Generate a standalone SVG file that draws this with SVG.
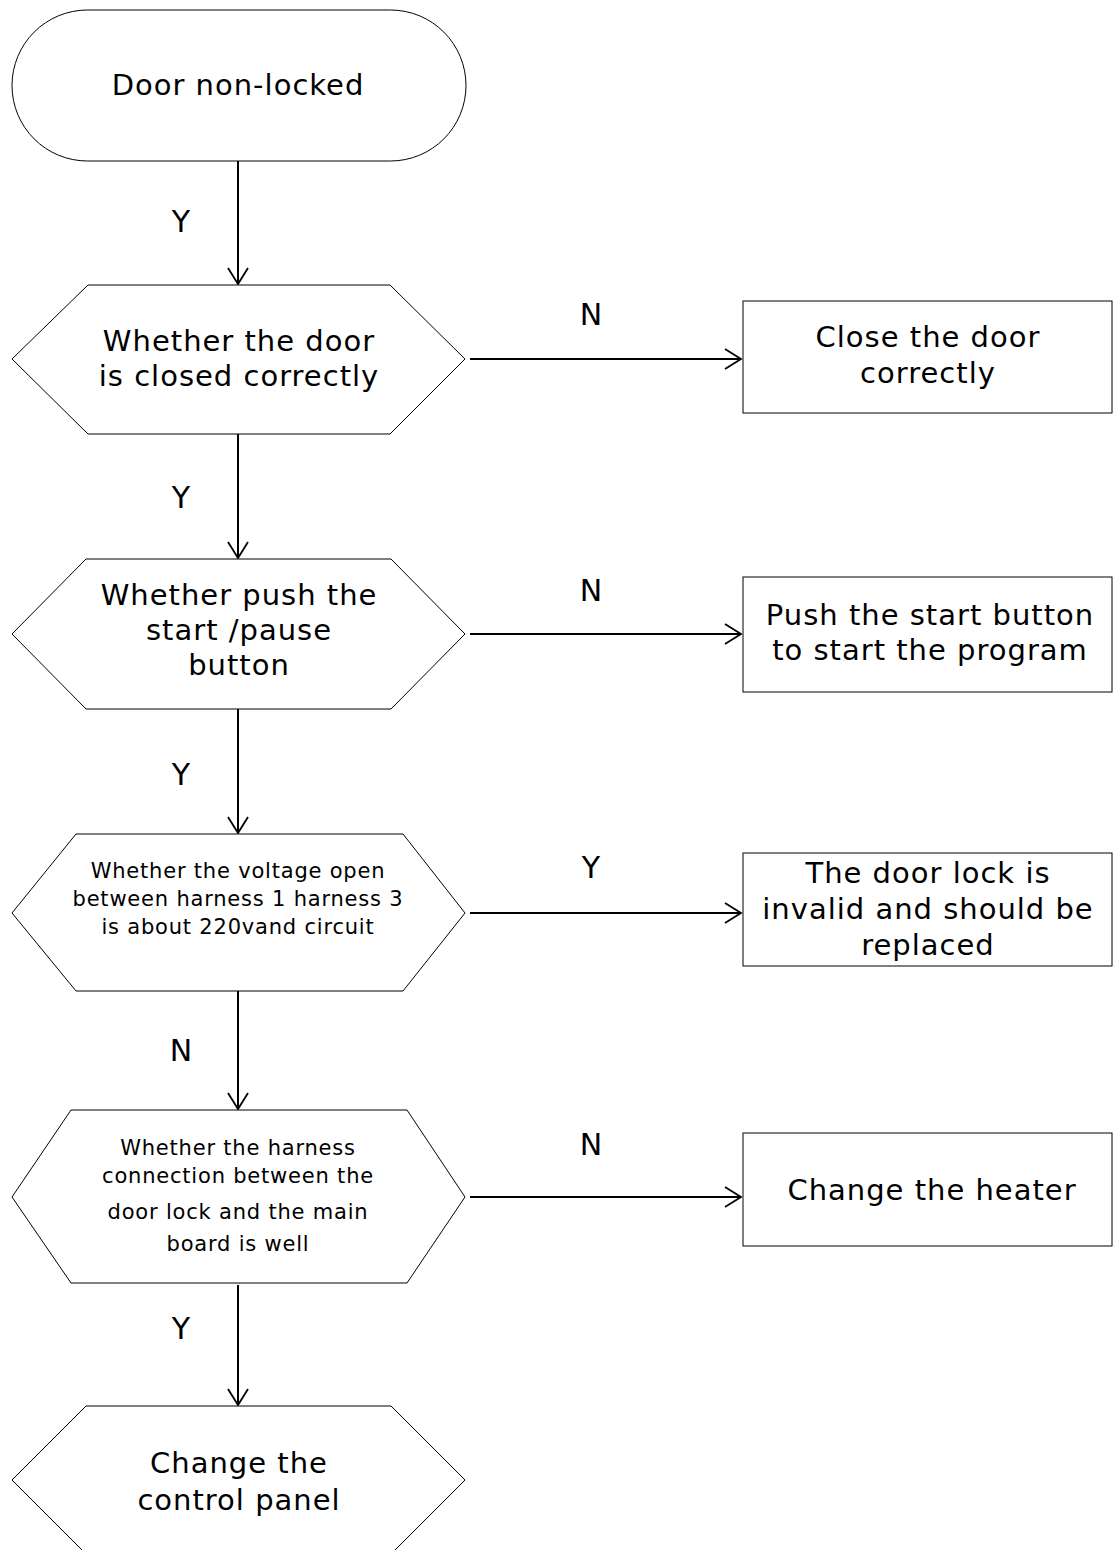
<svg xmlns="http://www.w3.org/2000/svg" width="1113" height="1550" viewBox="0 0 1113 1550">
<defs>
<marker id="arr" markerWidth="22" markerHeight="24" refX="17" refY="11" orient="auto" markerUnits="userSpaceOnUse">
<polyline points="1,1 17,11 1,21" fill="none" stroke="#000" stroke-width="1.8"/>
</marker>
<style>
.shape{fill:#fff;stroke:#000;stroke-width:1}
.t{font-family:"DejaVu Sans","Noto Sans",sans-serif;fill:#000;text-anchor:middle}
.big{font-size:29px;letter-spacing:1px}
.sm{font-size:21px;letter-spacing:0.8px}
.lbl{font-size:30px}
.conn{stroke:#000;stroke-width:2;fill:none;marker-end:url(#arr)}
</style>
</defs>
<rect width="1113" height="1550" fill="#fff"/>
<g id="connectors">
<line class="conn" x1="238" y1="161" x2="238" y2="284"/>
<line class="conn" x1="238" y1="434" x2="238" y2="558"/>
<line class="conn" x1="238" y1="709" x2="238" y2="833"/>
<line class="conn" x1="238" y1="991" x2="238" y2="1109"/>
<line class="conn" x1="238" y1="1285" x2="238" y2="1405"/>
<line class="conn" x1="470" y1="359" x2="741" y2="359"/>
<line class="conn" x1="470" y1="634" x2="741" y2="634"/>
<line class="conn" x1="470" y1="913" x2="741" y2="913"/>
<line class="conn" x1="470" y1="1197" x2="741" y2="1197"/>
<text class="t lbl" x="181" y="232">Y</text>
<text class="t lbl" x="181" y="508">Y</text>
<text class="t lbl" x="181" y="785">Y</text>
<text class="t lbl" x="181" y="1061">N</text>
<text class="t lbl" x="181" y="1339">Y</text>
<text class="t lbl" x="591" y="325">N</text>
<text class="t lbl" x="591" y="601">N</text>
<text class="t lbl" x="591" y="878">Y</text>
<text class="t lbl" x="591" y="1155">N</text>
</g>
<g id="start">
<rect class="shape" x="12" y="10" width="454" height="151" rx="75.5" ry="75.5"/>
<text class="t big" x="238" y="95">Door non-locked</text>
</g>
<g id="q1">
<polygon class="shape" points="88,285 390,285 465,359 390,434 88,434 12,359"/>
<text class="t big" x="239" y="351">Whether the door</text>
<text class="t big" x="239" y="386">is closed correctly</text>
</g>
<g id="a1">
<rect class="shape" x="743" y="301" width="369" height="112"/>
<text class="t big" x="928" y="347">Close the door</text>
<text class="t big" x="928" y="383">correctly</text>
</g>
<g id="q2">
<polygon class="shape" points="86,559 391,559 465,634 391,709 86,709 12,634"/>
<text class="t big" x="239" y="605">Whether push the</text>
<text class="t big" x="239" y="640">start /pause</text>
<text class="t big" x="239" y="675">button</text>
</g>
<g id="a2">
<rect class="shape" x="743" y="577" width="369" height="115"/>
<text class="t big" x="930" y="625">Push the start button</text>
<text class="t big" x="930" y="660">to start the program</text>
</g>
<g id="q3">
<polygon class="shape" points="76,834 403,834 465,913 403,991 76,991 12,913"/>
<text class="t sm" x="238" y="878">Whether the voltage open</text>
<text class="t sm" x="238" y="906">between harness 1 harness 3</text>
<text class="t sm" x="238" y="934">is about 220vand circuit</text>
</g>
<g id="a3">
<rect class="shape" x="743" y="853" width="369" height="113"/>
<text class="t big" x="928" y="883">The door lock is</text>
<text class="t big" x="928" y="919">invalid and should be</text>
<text class="t big" x="928" y="955">replaced</text>
</g>
<g id="q4">
<polygon class="shape" points="71,1110 407,1110 465,1197 407,1283 71,1283 12,1197"/>
<text class="t sm" x="238" y="1155">Whether the harness</text>
<text class="t sm" x="238" y="1183">connection between the</text>
<text class="t sm" x="238" y="1219">door lock and the main</text>
<text class="t sm" x="238" y="1251">board is well</text>
</g>
<g id="a4">
<rect class="shape" x="743" y="1133" width="369" height="113"/>
<text class="t big" x="932" y="1200">Change the heater</text>
</g>
<g id="end">
<polygon class="shape" points="86,1406 391,1406 465,1480 391,1554 86,1554 12,1480"/>
<text class="t big" x="239" y="1473">Change the</text>
<text class="t big" x="239" y="1510">control panel</text>
</g>
</svg>
